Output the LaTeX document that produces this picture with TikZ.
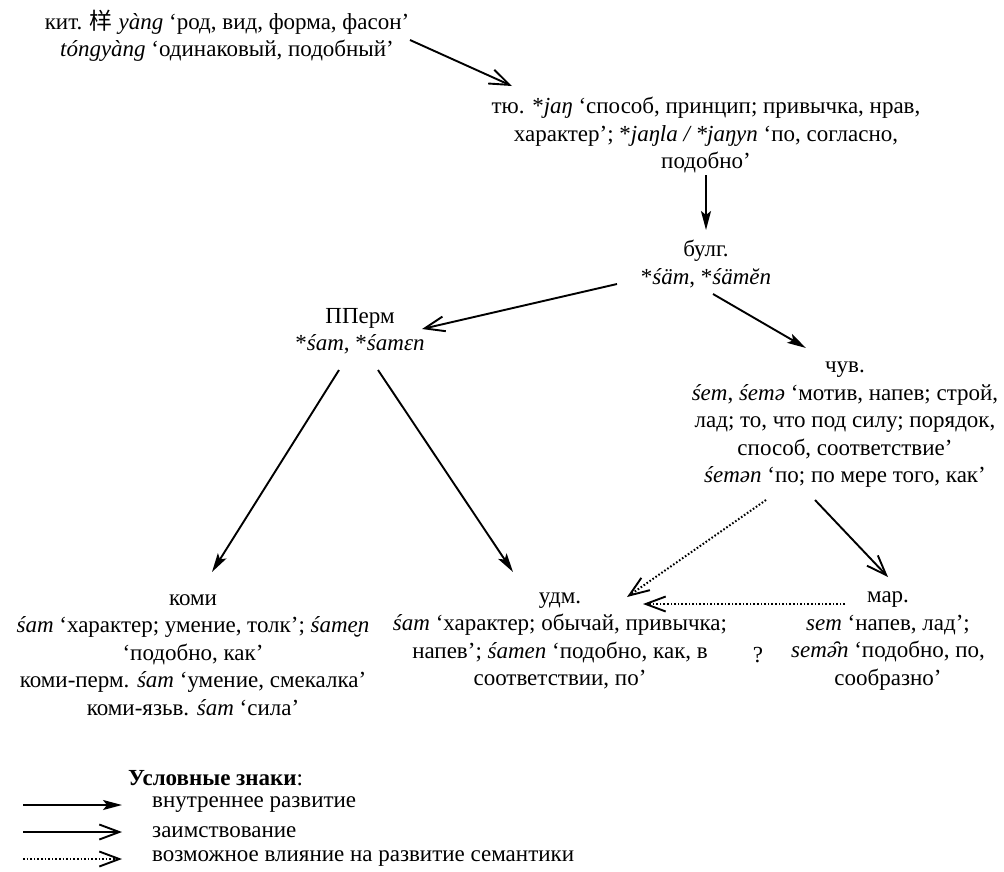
\documentclass[tikz,border=0pt]{standalone}
\usepackage{fontspec}
\setmainfont{Liberation Serif}
\newfontfamily\cjk{Noto Sans CJK SC}
\usetikzlibrary{arrows.meta}
\tikzset{
  lbl/.style={align=center, inner sep=0pt, font=\fontsize{23}{27.5}\selectfont},
  legtext/.style={anchor=west, inner sep=0pt, font=\fontsize{23}{27.5}\selectfont},
  devarrow/.style={line width=1.9pt, -{Stealth[length=19pt,width=10pt,inset=4pt]}},
  borrowarrow/.style={line width=1.9pt, -{Straight Barb[length=20pt,width=15pt,line width=1.9pt]}},
  influence/.style={line width=2pt, dash pattern=on 1.6pt off 2pt, -{Straight Barb[length=20pt,width=15pt,line width=1.9pt]}}
}
\begin{document}
\begin{tikzpicture}[x=1pt,y=-1pt]
\useasboundingbox (0,0) rectangle (1004,871);
\node[lbl] (kit) at (227,36) {кит. {\cjk 样} \textit{yàng} ‘род, вид, форма, фасон’\\\textit{tóngyàng} ‘одинаковый, подобный’};
\node[lbl] (tyu) at (706,135) {тю. *\textit{jaŋ} ‘способ, принцип; привычка, нрав,\\характер’; *\textit{jaŋla / *jaŋyn} ‘по, согласно,\\подобно’};
\node[lbl] (bulg) at (706,264) {булг.\\*\textit{śäm}, *\textit{śämĕn}};
\node[lbl] (pperm) at (360,331) {ППерм\\*\textit{śam}, *\textit{śamɛn}};
\node[lbl] (chuv) at (845,425) {чув.\\\textit{śem}, \textit{śemə} ‘мотив, напев; строй,\\лад; то, что под силу; порядок,\\способ, соответствие’\\\textit{śemən} ‘по; по мере того, как’};
\node[lbl] (komi) at (193,655) {коми\\\textit{śam} ‘характер; умение, толк’; \textit{śame̮n}\\‘подобно, как’\\коми-перм. \textit{śam} ‘умение, смекалка’\\коми-язьв. \textit{śam} ‘сила’};
\node[lbl] (udm) at (560,641) {удм.\\\textit{śam} ‘характер; обычай, привычка;\\напев’; \textit{śamen} ‘подобно, как, в\\соответствии, по’};
\node[lbl] (q) at (758,655) {?};
\node[lbl] (mar) at (888,641) {мар.\\\textit{sem} ‘напев, лад’;\\\textit{semə̑n} ‘подобно, по,\\сообразно’};

\draw[borrowarrow] ([shift={(183,4)}]kit.center) -- ([shift={(-194,-49)}]tyu.center);
\draw[devarrow] ([shift={(0,40)}]tyu.center) -- ([shift={(0,-34)}]bulg.center);
\draw[borrowarrow] ([shift={(-89,20)}]bulg.center) -- ([shift={(62,-2)}]pperm.center);
\draw[devarrow] ([shift={(7,30)}]bulg.center) -- ([shift={(-39,-77)}]chuv.center);
\draw[devarrow] ([shift={(-21,39)}]pperm.center) -- ([shift={(19,-83)}]komi.center);
\draw[devarrow] ([shift={(18,39)}]pperm.center) -- ([shift={(-47,-69)}]udm.center);
\draw[borrowarrow] ([shift={(-30,75)}]chuv.center) -- ([shift={(0,-64)}]mar.center);
\draw[influence] ([shift={(-79,75)}]chuv.center) -- ([shift={(67,-44)}]udm.center);
\draw[influence] ([shift={(-43,-37)}]mar.center) -- ([shift={(83,-37)}]udm.center);

\node[legtext] (leg) at (128,778) {\textbf{Условные знаки}:};
\node[legtext] (l1) at (152,805) {внутреннее развитие};
\node[legtext] (l2) at (152,832) {заимствование};
\node[legtext] (l3) at (152,859) {возможное влияние на развитие семантики};
\draw[devarrow] ([xshift=-129]l1.west) -- ([xshift=-30]l1.west);
\draw[borrowarrow] ([xshift=-129]l2.west) -- ([xshift=-30]l2.west);
\draw[influence] ([xshift=-129]l3.west) -- ([xshift=-30]l3.west);
\end{tikzpicture}
\end{document}
